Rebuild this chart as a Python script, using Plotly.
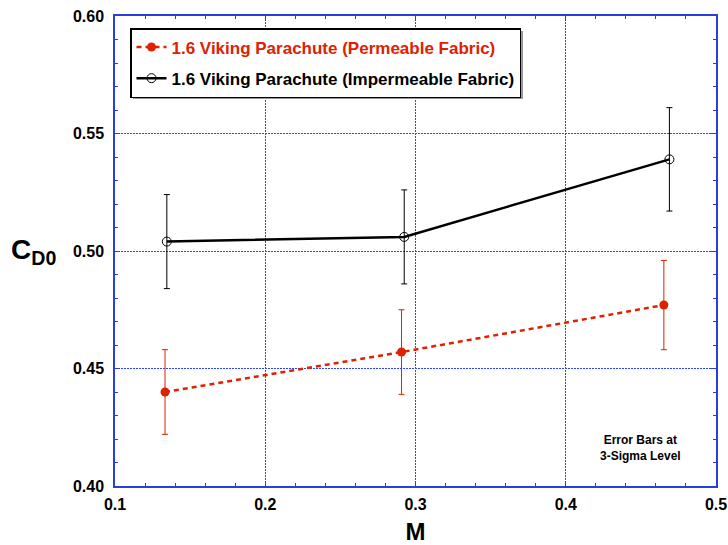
import plotly.graph_objects as go

mach_perm = [0.1333, 0.2907, 0.4653]
cd_perm = [0.440, 0.457, 0.477]
err_perm = [0.018, 0.018, 0.019]

mach_imp = [0.1345, 0.2925, 0.469]
cd_imp = [0.504, 0.506, 0.539]
err_imp = [0.020, 0.020, 0.022]

name_perm = "1.6 Viking Parachute (Permeable Fabric)"
name_imp = "1.6 Viking Parachute (Impermeable Fabric)"

RED = "#dd2200"
BLUE = "#2a3de0"
GRID = "#2a44ff"
FONT = "Liberation Sans"

fig = go.Figure()
fig.add_trace(go.Scatter(
    x=mach_perm, y=cd_perm,
    name=f"<span style='color:{RED}'>{name_perm}</span>",
    mode="lines+markers", legendgroup="a",
    line=dict(color=RED, width=2.5, dash="5px,4px"),
    marker=dict(color=RED, size=9, symbol="circle"),
    error_y=dict(type="data", array=err_perm, color=RED, thickness=1, width=3),
))
fig.add_trace(go.Scatter(
    x=mach_imp, y=cd_imp, name=name_imp, mode="lines+markers",
    legendgroup="b",
    line=dict(color="black", width=2.5),
    marker=dict(color="black", size=9, symbol="circle-open", line=dict(color="black", width=1)),
    error_y=dict(type="data", array=err_imp, color="black", thickness=1, width=3),
))

axis_common = dict(
    showline=True, linecolor=BLUE, linewidth=1.5, mirror="ticks",
    ticks="inside", ticklen=5, tickcolor=BLUE, tickwidth=1,
    showgrid=True, gridcolor=GRID, griddash="2px,1px", gridwidth=1,
    zeroline=False, automargin=False,
    tickfont=dict(family=FONT, size=16, color="black", weight="bold"),
)

fig.update_xaxes(
    range=[0.1, 0.5], dtick=0.1, tick0=0.1, tickformat=".1f",
    ticklabelstandoff=3,
    minor=dict(dtick=0.02, ticks="inside", ticklen=3, tickcolor=BLUE, showgrid=False),
    title=dict(text="M", font=dict(family=FONT, size=24, color="black", weight="bold"), standoff=12),
    **axis_common,
)
fig.update_yaxes(
    range=[0.40, 0.60], dtick=0.05, tick0=0.4, tickformat=".2f",
    ticklabelstandoff=6,
    minor=dict(dtick=0.01, ticks="inside", ticklen=3, tickcolor=BLUE, showgrid=False),
    **axis_common,
)

fig.add_annotation(
    xref="paper", yref="paper", x=-0.136, y=0.5, xanchor="center", yanchor="middle",
    text="C<sub>D0</sub>", showarrow=False,
    font=dict(family=FONT, size=28, color="black", weight="bold"),
)
fig.add_annotation(
    xref="x", yref="y", x=0.45, y=0.4161, xanchor="center", yanchor="middle",
    text="Error Bars at<br>3-Sigma Level", showarrow=False,
    font=dict(family=FONT, size=12, color="black", weight="bold"),
)

# legend shadow
fig.add_shape(
    type="rect", xref="paper", yref="paper",
    x0=(133 - 115) / 601, x1=(523 - 115) / 601,
    y0=(486 - 99) / 470, y1=(486 - 31) / 470,
    fillcolor="#999999", line=dict(width=0), layer="above",
)

fig.update_layout(
    width=728, height=545,
    margin=dict(l=115, r=12, t=16, b=59),
    paper_bgcolor="white", plot_bgcolor="white",
    showlegend=True,
    legend=dict(
        x=(130 - 115) / 601, y=(486 - 28) / 470, xanchor="left", yanchor="top",
        bgcolor="white", bordercolor="black", borderwidth=1.5,
        font=dict(family=FONT, size=17, color="black", weight="bold"),
        itemwidth=30, tracegroupgap=6, traceorder="grouped",
    ),
)

fig.write_html("out.html")
